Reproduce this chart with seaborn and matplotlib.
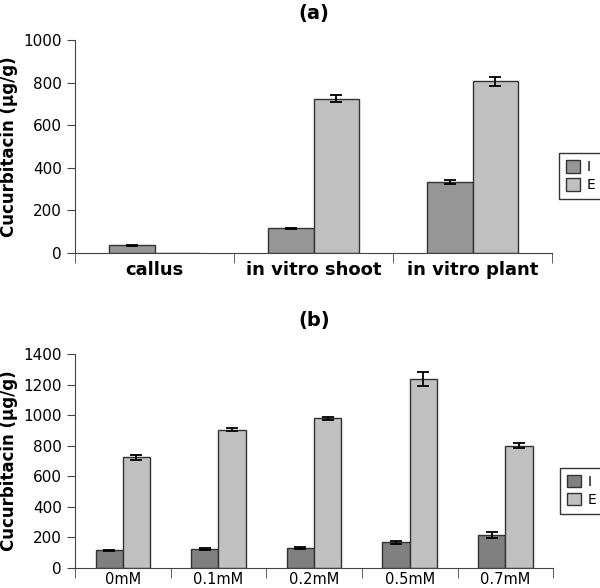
import seaborn as sns
import matplotlib.pyplot as plt
import pandas as pd
import numpy as np

# panel (a)
tissues = ['callus', 'in vitro shoot', 'in vitro plant']
a_I = [35, 115, 333]
a_I_err = [3, 3, 8]
a_E = [0, 725, 805]
a_E_err = [np.nan, 15, 22]

# panel (b)
conc = ['0mM', '0.1mM', '0.2mM', '0.5mM', '0.7mM']
b_I = [115, 122, 130, 168, 218]
b_I_err = [5, 6, 6, 10, 20]
b_E = [725, 905, 978, 1235, 800]
b_E_err = [17, 8, 8, 45, 15]

series = ['I', 'E']


def make_df(cats, iv, ie, ev, ee):
    rows = []
    for c, v, e in zip(cats, iv, ie):
        rows.append({'cat': c, 'type': 'I', 'val': v, 'err': e})
    for c, v, e in zip(cats, ev, ee):
        rows.append({'cat': c, 'type': 'E', 'val': v, 'err': e})
    return pd.DataFrame(rows)


def panel(ax, df, cats, colors, title, ymax, xfont, tpad, xpad):
    sns.barplot(data=df, x='cat', y='val', hue='type', hue_order=series,
                order=cats, palette=colors, width=0.57, gap=0,
                edgecolor='#333333', linewidth=1, errorbar=None,
                saturation=1, ax=ax)
    # error bars at bar centres
    for bars, s in zip(ax.containers, series):
        sub = df[df['type'] == s].set_index('cat').loc[cats]
        xs = [b.get_x() + b.get_width() / 2 for b in bars]
        ax.errorbar(xs, sub['val'], yerr=sub['err'], fmt='none',
                    ecolor='black', elinewidth=1.3, capsize=4, capthick=1.3)
    n = len(cats)
    ax.set_xlim(-0.5, n - 0.5)
    ax.set_ylim(0, ymax)
    ax.set_yticks(np.arange(0, ymax + 1, 200))
    ax.set_xticks(range(n))
    ax.set_xticklabels(cats, **xfont)
    ax.set_xticks(np.arange(-0.5, n, 1), minor=True)
    ax.tick_params(axis='x', which='major', length=0, pad=xpad)
    ax.tick_params(axis='x', which='minor', length=7, color='#444444', direction='out')
    ax.tick_params(axis='y', length=6, color='#444444', labelsize=11)
    for sp in ['top', 'right']:
        ax.spines[sp].set_visible(False)
    for sp in ['left', 'bottom']:
        ax.spines[sp].set_color('#444444')
    ax.set_xlabel('')
    ax.set_ylabel('Cucurbitacin (µg/g)', fontsize=12, fontweight='bold')
    ax.set_title(title, fontsize=14, fontweight='bold', pad=tpad)
    leg = ax.legend(loc='center left', bbox_to_anchor=(1.0, 0.36),
                    frameon=True, fancybox=False, edgecolor='black',
                    fontsize=10, handlelength=1.0, handleheight=1.0,
                    handletextpad=0.5, borderpad=0.5, labelspacing=0.3)
    leg.get_frame().set_linewidth(1)


fig = plt.figure(figsize=(6, 5.88), dpi=100)
ax1 = fig.add_axes([0.125, 0.570, 0.795, 0.362])
ax2 = fig.add_axes([0.125, 0.034, 0.797, 0.364])

df_a = make_df(tissues, a_I, a_I_err, a_E, a_E_err)
df_b = make_df(conc, b_I, b_I_err, b_E, b_E_err)

panel(ax1, df_a, tissues, ['#969696', '#c0c0c0'], '(a)', 1000,
      {'fontsize': 13, 'fontweight': 'bold'}, 15, 6)
panel(ax2, df_b, conc, ['#808080', '#c0c0c0'], '(b)', 1400,
      {'fontsize': 10.5}, 20, 3)

fig.savefig('out.png', dpi=100)
